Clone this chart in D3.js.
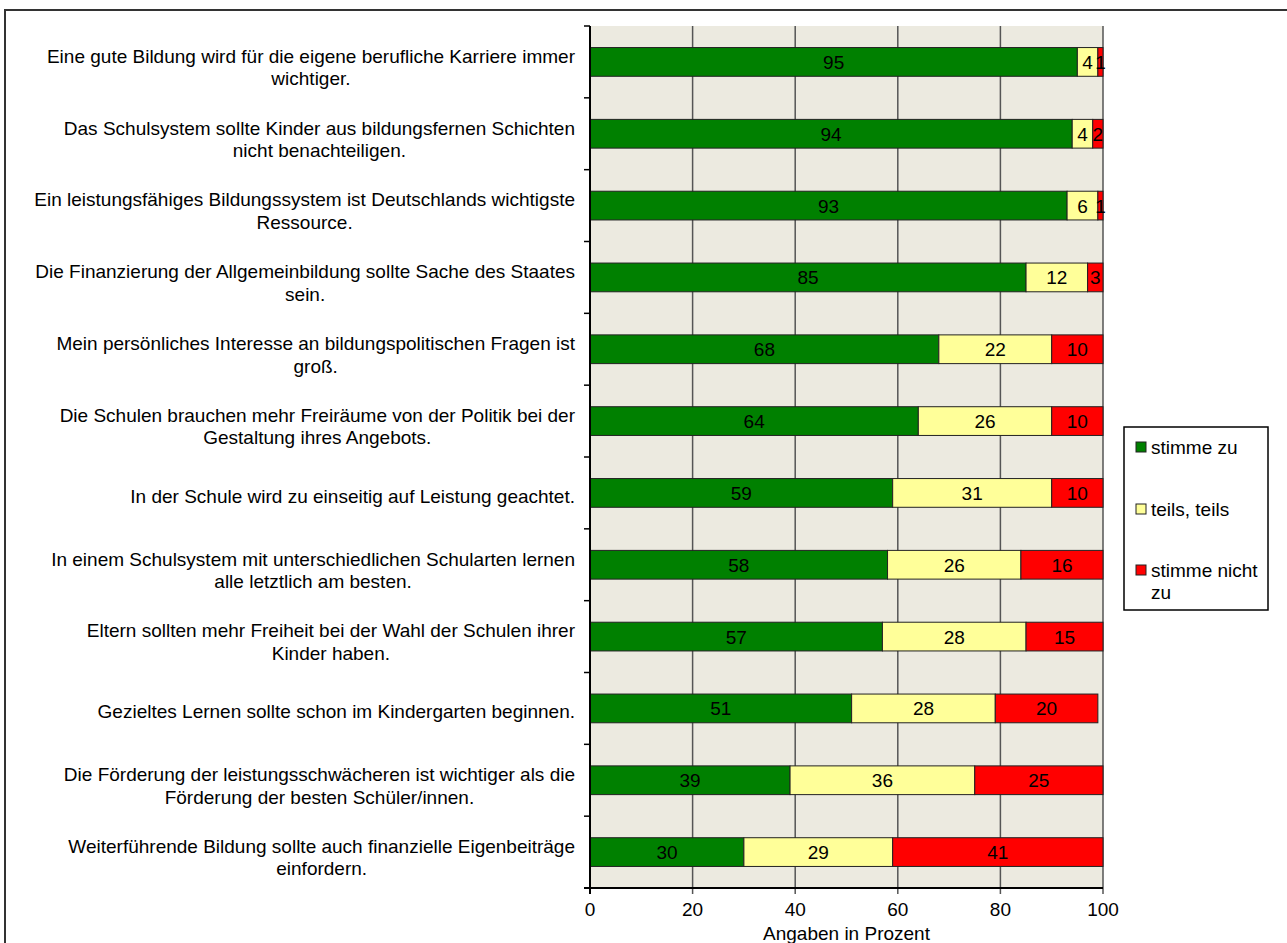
<!DOCTYPE html>
<html>
<head>
<meta charset="utf-8">
<script src="https://cdn.jsdelivr.net/npm/d3@7"></script>
<style>
  body { margin: 0; background: #fff; }
  svg { display: block; font-family: "Liberation Sans", Arial, sans-serif; }
</style>
</head>
<body>
<div class="chart"></div>
<script>
const categories = [
    "Eine gute Bildung wird für die eigene berufliche Karriere immer\nwichtiger.",
    "Das Schulsystem sollte Kinder aus bildungsfernen Schichten\nnicht benachteiligen.",
    "Ein leistungsfähiges Bildungssystem ist Deutschlands wichtigste\nRessource.",
    "Die Finanzierung der Allgemeinbildung sollte Sache des Staates\nsein.",
    "Mein persönliches Interesse an bildungspolitischen Fragen ist\ngroß.",
    "Die Schulen brauchen mehr Freiräume von der Politik bei der\nGestaltung ihres Angebots.",
    "In der Schule wird zu einseitig auf Leistung geachtet.",
    "In einem Schulsystem mit unterschiedlichen Schularten lernen\nalle letztlich am besten.",
    "Eltern sollten mehr Freiheit bei der Wahl der Schulen ihrer\nKinder haben.",
    "Gezieltes Lernen sollte schon im Kindergarten beginnen.",
    "Die Förderung der leistungsschwächeren ist wichtiger als die\nFörderung der besten Schüler/innen.",
    "Weiterführende Bildung sollte auch finanzielle Eigenbeiträge\neinfordern."
];

const seriesNames = ["stimme zu", "teils, teils", "stimme nicht zu"];
const seriesColors = ["#008000", "#FFFF99", "#FF0000"];

const stimmeZu    = [95, 94, 93, 85, 68, 64, 59, 58, 57, 51, 39, 30];
const teilsTeils  = [4, 4, 6, 12, 22, 26, 31, 26, 28, 28, 36, 29];
const stimmeNicht = [1, 2, 1, 3, 10, 10, 10, 16, 15, 20, 25, 41];

const xTicks = [0, 20, 40, 60, 80, 100];
const xTitle = "Angaben in Prozent";

function drawChart(){

    const width = 1287;
    const height = 943;

    const left = 590, right = 1103, top = 26, bottom = 888;

    const svg = d3.select(".chart")
        .append("svg")
        .attr("width", width)
        .attr("height", height);

    // Rahmen
    svg.append("rect")
        .attr("x", 5).attr("y", 10)
        .attr("width", 1400).attr("height", 1000)
        .attr("fill", "none")
        .attr("stroke", "#333")
        .attr("stroke-width", 2);

    const x = d3.scaleLinear()
        .domain([0, 100])
        .range([left, right]);

    const y = d3.scaleBand()
        .domain(categories)
        .range([top, bottom])
        .paddingInner(0.6)
        .paddingOuter(0.3);

    const step = y.step();

    // Hintergrund
    svg.append("rect")
        .attr("x", left).attr("y", top)
        .attr("width", right - left).attr("height", bottom - top)
        .attr("fill", "#ECEAE0");

    // Gitterlinien
    svg.selectAll(".grid")
        .data(xTicks.filter(d => d > 0))
        .enter()
        .append("line")
        .attr("x1", d => x(d)).attr("x2", d => x(d))
        .attr("y1", top).attr("y2", bottom + 6)
        .attr("stroke", "#555")
        .attr("stroke-width", 1.5);

    // Daten stapeln
    const rows = categories.map((c, i) => ({
        cat: c,
        values: [stimmeZu[i], teilsTeils[i], stimmeNicht[i]]
    }));

    const segments = [];
    rows.forEach(r => {
        let acc = 0;
        r.values.forEach((v, k) => {
            segments.push({ cat: r.cat, k: k, v: v, x0: acc, x1: acc + v });
            acc += v;
        });
    });

    svg.selectAll(".seg")
        .data(segments)
        .enter()
        .append("rect")
        .attr("x", d => x(d.x0))
        .attr("y", d => y(d.cat))
        .attr("width", d => x(d.x1) - x(d.x0))
        .attr("height", y.bandwidth())
        .attr("fill", d => seriesColors[d.k])
        .attr("stroke", "#222")
        .attr("stroke-width", 1);

    svg.selectAll(".val")
        .data(segments)
        .enter()
        .append("text")
        .attr("x", d => x((d.x0 + d.x1) / 2))
        .attr("y", d => y(d.cat) + y.bandwidth() / 2 + 7)
        .attr("text-anchor", "middle")
        .style("font-size", "19px")
        .attr("fill", "#000")
        .text(d => d.v);

    // Achsen
    svg.append("line")
        .attr("x1", left).attr("x2", left)
        .attr("y1", top).attr("y2", bottom + 6)
        .attr("stroke", "#000").attr("stroke-width", 2);

    svg.append("line")
        .attr("x1", left - 6).attr("x2", right)
        .attr("y1", bottom).attr("y2", bottom)
        .attr("stroke", "#000").attr("stroke-width", 2);

    svg.selectAll(".ytick")
        .data(d3.range(categories.length + 1))
        .enter()
        .append("line")
        .attr("x1", left - 6).attr("x2", left)
        .attr("y1", i => top + i * step).attr("y2", i => top + i * step)
        .attr("stroke", "#000").attr("stroke-width", 1.5);

    svg.selectAll(".xlab")
        .data(xTicks)
        .enter()
        .append("text")
        .attr("x", d => x(d))
        .attr("y", 916)
        .attr("text-anchor", "middle")
        .style("font-size", "19px")
        .text(d => d);

    svg.append("text")
        .attr("x", (left + right) / 2)
        .attr("y", 939.5)
        .attr("text-anchor", "middle")
        .style("font-size", "19px")
        .text(xTitle);

    // Kategorien
    categories.forEach(c => {
        const lines = c.split("\n");
        const g = svg.append("g");
        const texts = lines.map(l => g.append("text")
            .style("font-size", "19px")
            .attr("text-anchor", "middle")
            .text(l));
        const maxW = d3.max(texts, t => t.node().getComputedTextLength());
        const cx = 575 - maxW / 2;
        const lh = 22.5;
        const cy = y(c) + y.bandwidth() / 2 + (lines.length > 1 ? 5 : 3);
        texts.forEach((t, i) => {
            t.attr("x", cx)
             .attr("y", cy - (lines.length - 1) * lh / 2 + i * lh + 7);
        });
    });

    // Legende
    const lg = svg.append("g");
    lg.append("rect")
        .attr("x", 1124).attr("y", 427)
        .attr("width", 144).attr("height", 183)
        .attr("fill", "#fff")
        .attr("stroke", "#000")
        .attr("stroke-width", 1.5);

    const legendY = [447, 509, 570];
    seriesNames.forEach((name, i) => {
        lg.append("rect")
            .attr("x", 1136).attr("y", legendY[i] - 5)
            .attr("width", 10).attr("height", 10)
            .attr("fill", seriesColors[i])
            .attr("stroke", "#222")
            .attr("stroke-width", 1);
        const parts = name === "stimme nicht zu" ? ["stimme nicht", "zu"] : [name];
        parts.forEach((p, j) => {
            lg.append("text")
                .attr("x", 1151)
                .attr("y", legendY[i] + 7 + j * 22)
                .style("font-size", "19px")
                .text(p);
        });
    });
}

drawChart();
</script>
</body>
</html>
